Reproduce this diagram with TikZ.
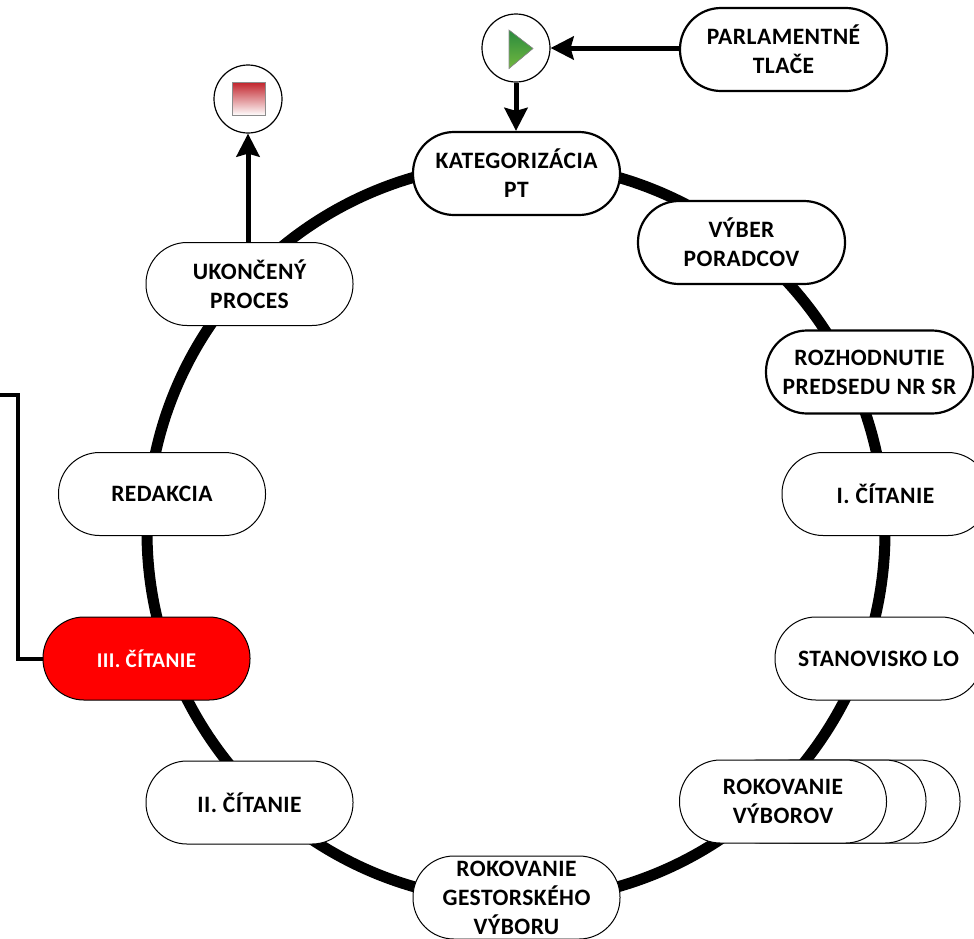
\documentclass[tikz,border=0pt]{standalone}
\usepackage{fontspec}
\setmainfont{Carlito}[LetterSpace=2]
\usetikzlibrary{arrows.meta,shapes.misc}
\definecolor{tritop}{HTML}{2A8A3E}
\definecolor{tribot}{HTML}{72B83F}
\definecolor{sqtop}{HTML}{C2262E}
\tikzset{
  pill/.style={draw=black,fill=white,line width=1pt,rectangle,rounded corners=41pt,minimum width=207pt,minimum height=83pt,inner sep=0pt,align=center,font=\fontsize{23.5}{29}\selectfont\bfseries,text=black},
  pillstrong/.style={pill,line width=2.2pt},
  pillred/.style={pill,fill=red,text=white,font=\fontsize{21}{29}\selectfont\bfseries},
  event/.style={draw=black,fill=white,circle,line width=1.2pt,minimum size=68pt,inner sep=0pt},
  ring/.style={draw=black,line width=11pt},
  flow/.style={draw=black,line width=5pt,-{Stealth[length=23pt,width=23pt,inset=3pt]}},
  plainflow/.style={draw=black,line width=4pt,line join=miter},
  tri/.style={draw=black!45,line width=.6pt,top color=tritop,bottom color=tribot},
  sq/.style={draw=black!45,line width=.6pt,top color=sqtop,bottom color=white}
}
\begin{document}
\begin{tikzpicture}[x=1pt,y=-1pt]
\useasboundingbox (0,0) rectangle (974,938);
\clip (0,0) rectangle (974,938);
\draw[ring] (516,532) circle [radius=369];
\node[pill] (vyb3) at (856.5,801.5) {};
\node[pill] (vyb2) at (822.5,801.5) {};
\node[pill] (vyb) at (783,801.5) {ROKOVANIE\\VÝBOROV};
\node[pillstrong] (kat) at (516.5,173.5) {KATEGORIZÁCIA\\PT};
\node[pillstrong] (por) at (741.5,242.5) {VÝBER\\PORADCOV};
\node[pillstrong] (roz) at (869.5,372) {ROZHODNUTIE\\PREDSEDU NR SR};
\node[pill] (cit1) at (885.5,494) {I. ČÍTANIE};
\node[pill] (sta) at (878.5,658.5) {STANOVISKO LO};
\node[pill] (ges) at (516.5,897.5) {ROKOVANIE\\GESTORSKÉHO\\VÝBORU};
\node[pill] (cit2) at (249.5,802.5) {II. ČÍTANIE};
\node[pillred] (cit3) at (146.5,658.5) {III. ČÍTANIE};
\node[pill] (red) at (162,494) {REDAKCIA};
\node[pill] (uko) at (249.5,284) {UKONČENÝ\\PROCES};
\node[pillstrong] (par) at (783.5,49.5) {PARLAMENTNÉ\\TLAČE};
\node[event] (start) at (516,48) {};
\node[event] (stop) at (248,99) {};
\fill[tri] (509,30) -- (533,48.5) -- (509,68.5) -- cycle;
\fill[sq] (232.5,82.5) rectangle (265,115.5);
\draw[flow] (par.west |- start) -- (start);
\draw[flow] (start) -- (start |- kat.north);
\draw[flow] (uko.north -| stop) -- (stop);
\coordinate (exit) at (0,395);
\draw[plainflow] (cit3.west) -- (18,658.5) -- (18,395) -- (exit);
\end{tikzpicture}
\end{document}
